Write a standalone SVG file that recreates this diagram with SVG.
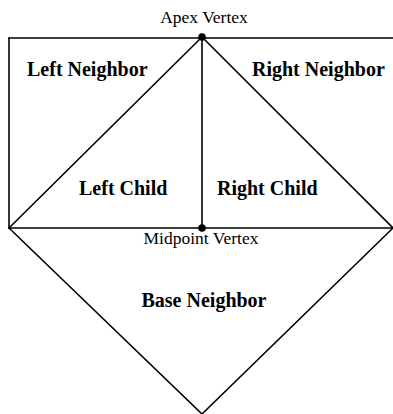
<svg xmlns="http://www.w3.org/2000/svg" width="393" height="414" viewBox="0 0 393 414">
<style>
.ln{stroke:#000;stroke-width:1.6;fill:none;stroke-linecap:round}
.big{font-family:"Liberation Serif","Times New Roman",serif;font-size:20px;font-weight:bold;fill:#000}
.sm{font-family:"Liberation Serif","Times New Roman",serif;font-size:17.5px;fill:#000}
.v{fill:#000}
</style>
<rect width="393" height="414" fill="#fff"/>
<g id="connectors">
<line class="ln" x1="9" y1="38" x2="393" y2="38"/>
<line class="ln" x1="9" y1="38" x2="9" y2="228"/>
<line class="ln" x1="9" y1="228" x2="393" y2="228"/>
<line class="ln" x1="202" y1="37" x2="202" y2="228"/>
<line class="ln" x1="202" y1="37" x2="9" y2="228"/>
<line class="ln" x1="202" y1="37" x2="393" y2="228"/>
<line class="ln" x1="9" y1="228" x2="202" y2="414"/>
<line class="ln" x1="393" y1="228" x2="202" y2="414"/>
</g>
<g id="left-neighbor"><text class="big" x="27" y="76">Left Neighbor</text></g>
<g id="right-neighbor"><text class="big" x="252" y="76">Right Neighbor</text></g>
<g id="left-child"><text class="big" x="79" y="195">Left Child</text></g>
<g id="right-child"><text class="big" x="217" y="195">Right Child</text></g>
<g id="base-neighbor"><text class="big" x="204" y="307" text-anchor="middle">Base Neighbor</text></g>
<g id="apex-vertex"><circle class="v" cx="202" cy="37" r="3.8"/><text class="sm" x="204" y="23" text-anchor="middle">Apex Vertex</text></g>
<g id="midpoint-vertex"><circle class="v" cx="202" cy="228" r="3.8"/><text class="sm" x="201" y="244" text-anchor="middle">Midpoint Vertex</text></g>
</svg>
